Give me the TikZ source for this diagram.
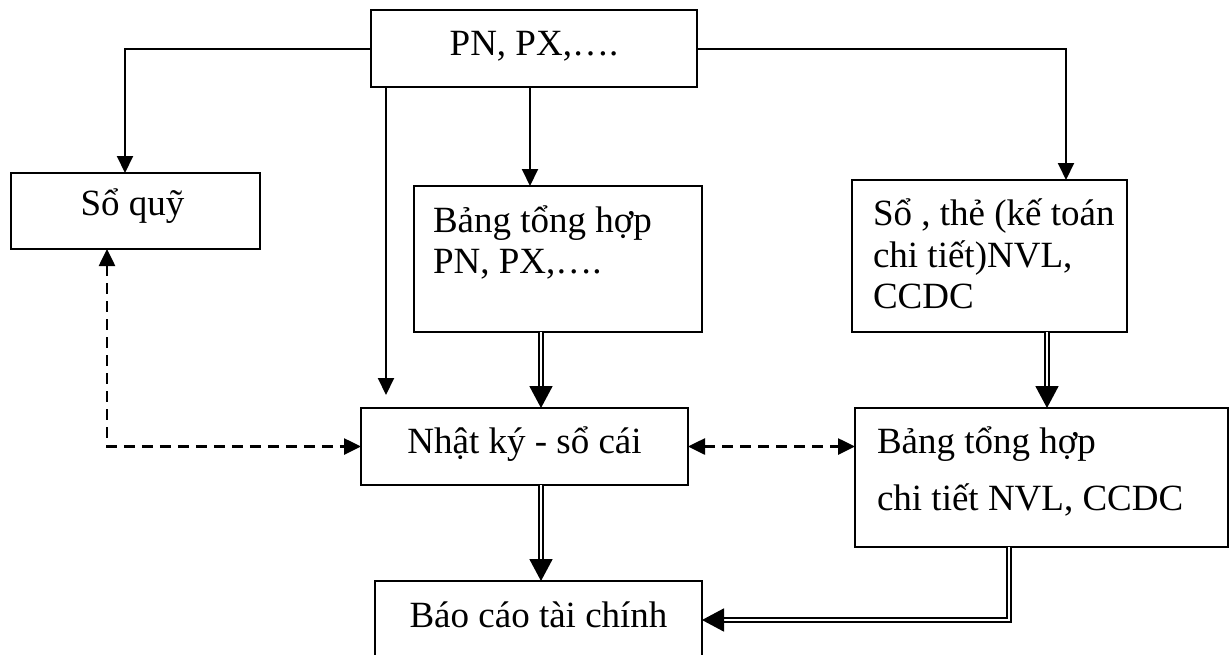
\documentclass[tikz,border=0pt]{standalone}
\usepackage{fontspec}
\setmainfont{Liberation Serif}
\usetikzlibrary{arrows.meta,calc}

\tikzset{
  box/.style={draw, line width=1pt, rectangle, inner sep=0pt, outer sep=0pt},
  txt/.style={inner sep=0pt, outer sep=0pt, font=\fontsize{18.5}{22}\selectfont},
  arr/.style={line width=1pt, -{Triangle[length=8.5pt,width=8pt]}},
  dblarr/.style={double, double distance=1pt, line width=0.9pt,
                 -{Triangle[length=11pt,width=11.5pt]}},
  dasharr/.style={line width=1.3pt, dash pattern=on 5.5pt off 3.5pt,
                  {Triangle[length=8.5pt,width=8pt]}-{Triangle[length=8.5pt,width=8pt]}},
}

\begin{document}
\begin{tikzpicture}[x=0.5pt, y=-0.5pt]
  \useasboundingbox (0,0) rectangle (1232,654);
  \clip (0,0) rectangle (1232,654);

  % boxes
  \node[box, minimum width=163pt, minimum height=38.5pt] (pn) at (534,48.5) {};
  \node[box, minimum width=124.5pt, minimum height=38pt] (soquy) at (135.5,211) {};
  \node[box, minimum width=144pt, minimum height=73pt] (bang) at (558,259) {};
  \node[box, minimum width=137.5pt, minimum height=76pt] (sothe) at (989.5,256) {};
  \node[box, minimum width=163.5pt, minimum height=38.5pt] (nhatky) at (524.5,446.5) {};
  \node[box, minimum width=186.5pt, minimum height=69.5pt] (bangct) at (1041.5,477.5) {};
  \node[box, minimum width=163.5pt, minimum height=39pt] (baocao) at (538.5,620) {};

  % texts
  \node[txt, anchor=base] (tpn) at (534,55) {PN, PX,….};
  \node[txt, anchor=base] (tsq) at (132.5,215) {Sổ quỹ};
  \node[txt, anchor=base west] (tb1) at (433,232) {Bảng tổng hợp};
  \node[txt, anchor=base west] (tb2) at (433,273) {PN, PX,….};
  \node[txt, anchor=base west] (ts1) at (873,225) {Sổ , thẻ (kế toán};
  \node[txt, anchor=base west] (ts2) at (873,267) {chi tiết)NVL,};
  \node[txt, anchor=base west] (ts3) at (873,308) {CCDC};
  \node[txt, anchor=base] (tnk) at (524.5,453) {Nhật ký - sổ cái};
  \node[txt, anchor=base west] (tc1) at (877,453) {Bảng tổng hợp};
  \node[txt, anchor=base west] (tc2) at (877,510) {chi tiết NVL, CCDC};
  \node[txt, anchor=base] (tbc) at (538.5,627) {Báo cáo tài chính};

  % single arrows from the voucher box
  \draw[arr] (pn.west) -| ($(soquy.north)+(-10.5,0)$);
  \draw[arr] (pn.east) -| ($(sothe.north east)+(-61,0)$);
  \draw[arr] ($(pn.south west)+(15,0)$) -- ($(nhatky.north west)+(25,-13)$);
  \coordinate (pnout) at ($(pn.south)+(-4,0)$);
  \draw[arr] (pnout) -- (pnout |- bang.north);

  % double arrows
  \coordinate (colx) at (541,0);
  \draw[dblarr] (colx |- bang.south) -- (colx |- nhatky.north);
  \draw[dblarr] (colx |- nhatky.south) -- (colx |- baocao.north);
  \coordinate (coly) at (1047,0);
  \draw[dblarr] (coly |- sothe.south) -- (coly |- bangct.north);
  \draw[dblarr] ($(bangct.south west)+(154,0)$) |- (baocao.east);

  % dashed two-way arrows
  \draw[dasharr] ($(soquy.south west)+(96,0)$) |- (nhatky.west);
  \draw[dasharr] (nhatky.east) -- (nhatky.east -| bangct.west);
\end{tikzpicture}
\end{document}
